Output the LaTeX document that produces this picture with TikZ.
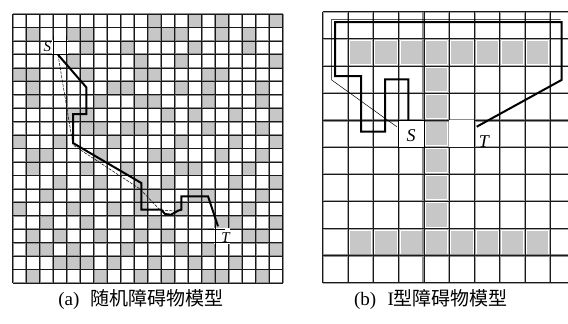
\documentclass[tikz,border=0pt]{standalone}
\usepackage{fontspec}
\setmainfont{Liberation Serif}
\newfontfamily\cjk{Noto Sans CJK SC}
\begin{document}
\begin{tikzpicture}[x=1pt,y=-1pt,
  halo/.style={draw=black!45,line width=1.8pt},
  core/.style={draw=black!90,line width=0.6pt},
  thickpath/.style={draw=black,line width=2pt,line join=miter},
  thinpath/.style={draw=black,line width=0.5pt},
  lbl/.style={font=\fontsize{15}{15}\selectfont\itshape,inner sep=0pt},
  lblb/.style={font=\fontsize{18}{18}\selectfont\itshape,inner sep=0pt},
  capt/.style={font=\fontsize{19}{19}\selectfont,inner sep=0pt}]
\useasboundingbox (0,0) rectangle (568,324);
% ---------------- left grid (20 x 20)
\def\lx{12.7}\def\ly{14}\def\lw{13.5}\def\lh{13.45}
\foreach \r/\cols in {0/{10,13,15,19},1/{1,4,5,10,11,12,15,17},2/{5,8,13,17},3/{4,9,12,19},
  4/{0,1,5,9,10,14,15},5/{1,7,8,12,14,18},6/{1,6,9,10,14,18},7/{4,5,11,13,16,19},
  8/{5,6,8,9,14,18},9/{0,3,7,12,16,19},10/{1,2,6,10,11,15,18},11/{1,5,8,12,13,17},
  12/{3,6,9,11,16,19},13/{2,5,9,10,13,14,18},14/{0,4,7,9,12,17},15/{2,5,8,10,15,16,19},
  16/{1,3,6,9,11,17,18},17/{1,2,4,8,12,14,19},18/{3,4,5,7,10,13,16},19/{1,6,9,11,14,15,18}}
  \foreach \c in \cols
    \fill[black!22] (\lx+\c*\lw,\ly+\r*\lh) rectangle ++(\lw,\lh);
\foreach \i in {0,...,20}{
  \draw[halo] (\lx+\i*\lw,\ly) -- (\lx+\i*\lw,\ly+20*\lh);
  \draw[halo] (\lx,\ly+\i*\lh) -- (\lx+20*\lw,\ly+\i*\lh);}
\foreach \i in {0,...,20}{
  \draw[core] (\lx+\i*\lw,\ly) -- (\lx+\i*\lw,\ly+20*\lh);
  \draw[core] (\lx,\ly+\i*\lh) -- (\lx+20*\lw,\ly+\i*\lh);}
% S cell (col 3,row 2) and T cell (col 15,row 16)
\fill[white] (\lx+3*\lw-1,\ly+2*\lh-1) rectangle ++(\lw+2,\lh+2);
\draw[line width=0.6pt] (\lx+3*\lw,\ly+2*\lh) -- ++(\lw+2.5,0)
  (\lx+3*\lw-6,\ly+3*\lh) -- ++(\lw+9,0)
  (\lx+3*\lw,\ly+2*\lh-5) -- ++(0,\lh+9)
  (\lx+4*\lw,\ly+2*\lh-5) -- ++(0,\lh+5);
\fill[white] (\lx+15*\lw-1,\ly+16*\lh-1) rectangle ++(\lw+2,\lh+2);
\draw[line width=0.6pt] (\lx+15*\lw-7,\ly+16*\lh) -- ++(\lw+3,0)
  (\lx+14*\lw,\ly+17*\lh) -- ++(2*\lw+1,0)
  (\lx+15*\lw,\ly+16*\lh-4) -- ++(0,\lh+9);
\node[lbl] (S1) at (47.3,46.5) {S};
\node[lbl] (T1) at (225.5,238) {T};
\coordinate (s1) at (58,54.7);
\coordinate (t1) at (218,226.3);
\draw[thinpath,dash pattern=on 3pt off 1.2pt] (s1) -- (73,145) -- (140,189) -- (160,210) -- (175,211);
\draw[thickpath] (s1) -- (86.3,87.3) -- (86.3,114) -- (73,114) -- (73,143)
  -- (141.3,183) -- (141.3,209.7) -- (161.3,209.7) -- (165,214) -- (171,214.7) -- (178,210.7)
  -- (181.3,209.7) -- (181.3,196.3) -- (208,196.3) -- (t1);
% ---------------- right grid
\def\rx{322.7}\def\ry{11.7}\def\rw{25.3}\def\rh{27.1}
\foreach \c in {1,...,8}{
  \fill[black!22] (\rx+\c*\rw+2,\ry+1*\rh+2) rectangle ++(\rw-4,\rh-4);
  \fill[black!22] (\rx+\c*\rw+2,\ry+8*\rh+2) rectangle ++(\rw-4,\rh-4);}
\foreach \r in {2,...,7}
  \fill[black!22] (\rx+4*\rw+2,\ry+\r*\rh+2) rectangle ++(\rw-4,\rh-4);
\foreach \i in {0,...,9}
  \draw[draw=black!35,line width=2pt] (\rx+\i*\rw,\ry) -- (\rx+\i*\rw,\ry+10*\rh);
\foreach \j in {0,...,10}
  \draw[draw=black!35,line width=2pt] (\rx,\ry+\j*\rh) -- (568,\ry+\j*\rh);
\draw[draw=black!45,line width=3pt] (\rx,\ry+4*\rh) -- (568,\ry+4*\rh);
\draw[draw=black!45,line width=3pt] (\rx,\ry+9*\rh) -- (568,\ry+9*\rh);
\draw[draw=black!45,line width=3pt] (\rx+4*\rw,\ry) -- (\rx+4*\rw,\ry+10*\rh);
\foreach \i in {0,...,9}
  \draw[core,line width=0.7pt] (\rx+\i*\rw,\ry) -- (\rx+\i*\rw,\ry+10*\rh);
\foreach \j in {0,...,10}
  \draw[core,line width=0.7pt] (\rx,\ry+\j*\rh) -- (568,\ry+\j*\rh);
% S and T cells
\fill[white] (\rx+3*\rw,\ry+4*\rh) rectangle ++(\rw,\rh);
\draw[line width=0.7pt] (\rx+3*\rw,\ry+4*\rh) rectangle ++(\rw,\rh);
\fill[white] (\rx+5*\rw,\ry+4*\rh) rectangle ++(\rw,\rh);
\draw[line width=0.7pt] (\rx+6*\rw,\ry+4*\rh) -- ++(0,\rh);
\node[lblb] (S2) at (411,136) {S};
\node[lblb] (T2) at (484,142) {T};
\coordinate (s2) at (396.7,126.7);
\coordinate (t2) at (476.7,126.7);
\draw[thinpath] (s2) -- (331.7,80) -- (331.7,19.3) -- (560.5,19.3);
\draw[thickpath] (408.3,120) -- (408.3,79.3) -- (385,79.3) -- (385,131.7) -- (361,131.7)
  -- (361,76) -- (335,76) -- (335,22) -- (561.5,22) -- (561.5,80) -- (t2);
% ---------------- captions
\node[capt] (ca) at (141,300) {(a)\hspace{0.6em}{\cjk 随机障碍物模型}};
\node[capt] (cb) at (431,300) {(b)\hspace{0.6em}I{\cjk 型障碍物模型}};
\end{tikzpicture}
\end{document}
